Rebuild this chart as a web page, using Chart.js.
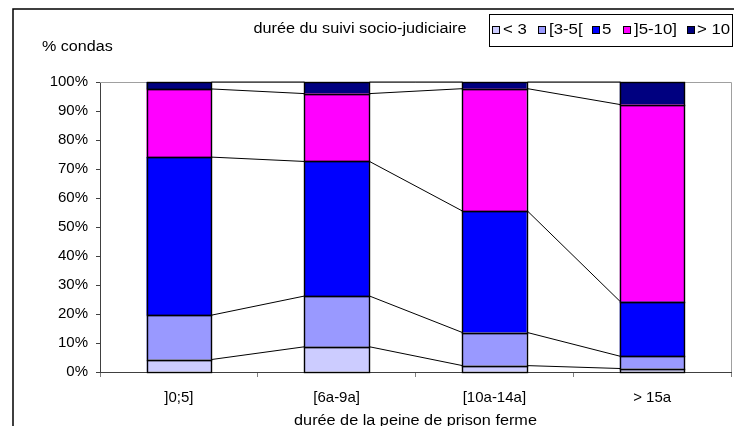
<!DOCTYPE html>
<html>
<head>
<meta charset="utf-8">
<script src="https://cdn.jsdelivr.net/npm/chart.js@4/dist/chart.umd.min.js"></script>
<style>
  html, body { margin: 0; padding: 0; background: #fff; }
  #wrap { width: 734px; height: 426px; position: relative; }
</style>
</head>
<body>
<div id="wrap"><canvas id="c" width="734" height="426"></canvas></div>
<script>
// Durée de la peine de prison ferme (categories)
const categories = [']0;5]', '[6a-9a]', '[10a-14a]', '> 15a'];

// Durée du suivi socio-judiciaire : part des condamnés (%) par tranche
const seriesNames = ['< 3', '[3-5[', '5', ']5-10]', '> 10'];
const lt3       = [4.3, 8.7, 2.2, 1.2];
const from3to5  = [15.3, 17.5, 11.4, 4.2];
const eq5       = [54.5, 46.4, 41.9, 18.8];
const from5to10 = [23.5, 23.4, 42.2, 68.0];
const gt10      = [2.4, 4.0, 2.3, 7.8];

const yTicks = [0, 10, 20, 30, 40, 50, 60, 70, 80, 90, 100];

const colors = ['#CCCCFF', '#9999FF', '#0000FF', '#FF00FF', '#000080'];
const seriesValues = [lt3, from3to5, eq5, from5to10, gt10];

const FONT = '"Liberation Sans", Arial, sans-serif';
const FS = 15;

// text drawn slightly widened, like the labels of the original sheet
function wideText(ctx, text, x, y, align, sx) {
  ctx.save();
  const w = ctx.measureText(text).width * sx;
  let left = x;
  if (align === 'center') left = x - w / 2;
  else if (align === 'right') left = x - w;
  ctx.translate(left, y);
  ctx.scale(sx, 1);
  ctx.textAlign = 'left';
  ctx.fillText(text, 0, 0);
  ctx.restore();
}

// Frame, plot border, bar outlines, series lines, titles and legend
const decor = {
  id: 'decor',
  beforeDraw(chart) {
    const ctx = chart.ctx;
    ctx.save();
    ctx.fillStyle = '#fff';
    ctx.fillRect(0, 0, chart.width, chart.height);
    ctx.restore();
  },
  beforeDatasetsDraw(chart) {
    const ctx = chart.ctx;
    const ca = chart.chartArea;
    ctx.save();
    ctx.strokeStyle = '#A0A0A0';
    ctx.lineWidth = 1;
    ctx.beginPath();
    ctx.moveTo(ca.left, Math.round(ca.top) + 0.5);
    ctx.lineTo(ca.right + 0.5, Math.round(ca.top) + 0.5);
    ctx.lineTo(ca.right + 0.5, ca.bottom);
    ctx.stroke();
    ctx.restore();
  },
  afterDatasetsDraw(chart) {
    const ctx = chart.ctx;
    const n = chart.data.datasets.length;
    ctx.save();
    // bar outlines
    ctx.strokeStyle = '#000';
    ctx.lineWidth = 1.4;
    for (let d = 0; d < n; d++) {
      const meta = chart.getDatasetMeta(d);
      meta.data.forEach(el => {
        const l = Math.round(el.x - el.width / 2) + 0.5;
        const r = Math.round(el.x + el.width / 2) + 0.5;
        const t = Math.round(el.y) + 0.5;
        const b = Math.round(el.base) + 0.5;
        ctx.strokeRect(l, t, r - l, b - t);
      });
    }
    // series lines between consecutive bars
    ctx.lineWidth = 1;
    for (let d = 0; d < n; d++) {
      const meta = chart.getDatasetMeta(d);
      for (let i = 0; i < meta.data.length - 1; i++) {
        const a = meta.data[i], b = meta.data[i + 1];
        ctx.beginPath();
        ctx.moveTo(Math.round(a.x + a.width / 2) + 0.5, a.y);
        ctx.lineTo(Math.round(b.x - b.width / 2) + 0.5, b.y);
        ctx.stroke();
      }
    }
    ctx.restore();
  },
  afterDraw(chart) {
    const ctx = chart.ctx;
    const ca = chart.chartArea;
    ctx.save();
    // outer frame
    ctx.strokeStyle = '#000';
    ctx.lineWidth = 1.5;
    ctx.beginPath();
    ctx.moveTo(13, 426);
    ctx.lineTo(13, 9);
    ctx.lineTo(734, 9);
    ctx.stroke();

    ctx.fillStyle = '#000';
    ctx.font = '14px ' + FONT;
    ctx.textBaseline = 'middle';

    wideText(ctx, 'durée du suivi socio-judiciaire', 360, 29, 'center', 1.16);
    wideText(ctx, 'durée de la peine de prison ferme', (ca.left + ca.right) / 2, 421, 'center', 1.16);
    wideText(ctx, '% condas', 42, 47, 'left', 1.15);

    // legend
    ctx.lineWidth = 1;
    ctx.strokeStyle = '#000';
    ctx.strokeRect(489.5, 14.5, 243, 32);
    const sq = [492, 538, 592, 623, 687];
    const tx = [503, 549, 602, 634, 697];
    for (let k = 0; k < seriesNames.length; k++) {
      ctx.fillStyle = colors[k];
      ctx.fillRect(sq[k], 26, 8, 8);
      ctx.strokeStyle = '#000';
      ctx.strokeRect(sq[k] + 0.5, 26.5, 7, 7);
      ctx.fillStyle = '#000';
      wideText(ctx, seriesNames[k], tx[k], 30, 'left', 1.2);
    }
    ctx.restore();
  }
};

const datasets = seriesNames.map((name, k) => ({
  label: name,
  data: seriesValues[k],
  backgroundColor: colors[k],
  borderWidth: 0,
  categoryPercentage: 1.0,
  barPercentage: 0.41
}));

new Chart(document.getElementById('c'), {
  type: 'bar',
  data: { labels: categories, datasets },
  options: {
    responsive: false,
    animation: false,
    devicePixelRatio: 1,
    layout: { padding: { left: 0, top: 82, right: 3, bottom: 0 } },
    plugins: {
      legend: { display: false },
      title: { display: false },
      tooltip: { enabled: false }
    },
    scales: {
      x: {
        stacked: true,
        afterFit(scale) { scale.height = 54; },
        grid: {
          offset: true,
          drawOnChartArea: false,
          drawTicks: true,
          tickLength: 5,
          color: '#808080'
        },
        border: { display: true, color: '#404040', width: 1 },
        ticks: {
          color: '#000',
          font: { family: FONT, size: FS },
          padding: 12,
          maxRotation: 0
        }
      },
      y: {
        stacked: true,
        min: 0,
        max: 100,
        afterFit(scale) { scale.width = 100; },
        afterBuildTicks(scale) { scale.ticks = yTicks.map(v => ({ value: v })); },
        grid: {
          drawOnChartArea: false,
          drawTicks: true,
          tickLength: 4,
          color: '#404040'
        },
        border: { display: true, color: '#404040', width: 1 },
        ticks: {
          color: '#000',
          font: { family: FONT, size: FS },
          padding: 8,
          callback: v => v + '%'
        }
      }
    }
  },
  plugins: [decor]
});
</script>
</body>
</html>
